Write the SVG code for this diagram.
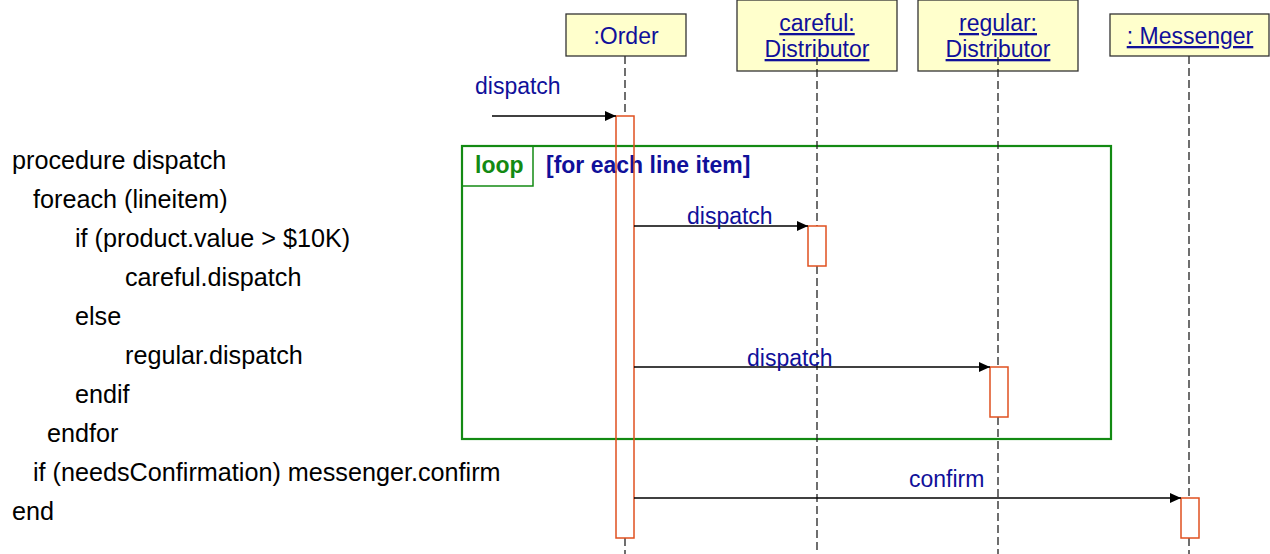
<svg xmlns="http://www.w3.org/2000/svg" width="1270" height="554" viewBox="0 0 1270 554">
<defs>
<marker id="arr" markerWidth="12" markerHeight="10" refX="11" refY="5" orient="auto" markerUnits="userSpaceOnUse">
<path d="M0,0 L11,5 L0,10 Z" fill="#000"/>
</marker>
<style>
.obj{fill:#ffffcc;stroke:#333;stroke-width:1.3}
.otxt{font-family:"Liberation Sans",Arial,sans-serif;font-size:23px;fill:#10109a;text-anchor:middle}
.u{text-decoration:underline}
.life{stroke:#222;stroke-width:1.3;stroke-dasharray:8 4;fill:none}
.act{fill:none;stroke:#e0501f;stroke-width:1.5}
.msg{stroke:#000;stroke-width:1.3;fill:none;marker-end:url(#arr)}
.lbl{font-family:"Liberation Sans",Arial,sans-serif;font-size:23px;fill:#10109a}
.code{font-family:"Liberation Sans",Arial,sans-serif;font-size:25.2px;fill:#000}
.frame{fill:none;stroke:#138a13;stroke-width:2.2}
.tab{fill:none;stroke:#138a13;stroke-width:1.5}
</style>
</defs>
<rect width="1270" height="554" fill="#fff"/>

<g id="code">
<text class="code" x="12" y="169">procedure dispatch</text>
<text class="code" x="33" y="208">foreach (lineitem)</text>
<text class="code" x="75" y="247">if (product.value &gt; $10K)</text>
<text class="code" x="125" y="286">careful.dispatch</text>
<text class="code" x="75" y="325">else</text>
<text class="code" x="125" y="364">regular.dispatch</text>
<text class="code" x="75" y="403">endif</text>
<text class="code" x="47" y="442">endfor</text>
<text class="code" x="33" y="481">if (needsConfirmation) messenger.confirm</text>
<text class="code" x="12" y="520">end</text>
</g>

<g id="loop-frame">
<rect class="frame" x="462" y="146" width="649" height="293"/>
<path class="tab" d="M462,186 H533 V146"/>
<text x="475" y="173" font-family="Liberation Sans,Arial,sans-serif" font-size="23" font-weight="bold" fill="#138a13">loop</text>
<text x="546" y="173" font-family="Liberation Sans,Arial,sans-serif" font-size="23" font-weight="bold" fill="#10109a">[for each line item]</text>
</g>

<g id="order">
<line class="life" x1="625" y1="56" x2="625" y2="116"/>
<line class="life" x1="625" y1="538" x2="625" y2="554"/>
<rect class="obj" x="566" y="14" width="120" height="42"/>
<text class="otxt" x="626" y="44">:Order</text>
<rect class="act" x="616" y="116" width="18" height="422"/>
</g>

<g id="careful">
<rect class="obj" x="737" y="0" width="160" height="71"/>
<text class="otxt u" x="817" y="31">careful:</text>
<text class="otxt u" x="817" y="57">Distributor</text>
<line class="life" x1="817" y1="57" x2="817" y2="226"/>
<line class="life" x1="817" y1="266" x2="817" y2="554"/>
<rect class="act" x="808" y="226" width="18" height="40"/>
</g>

<g id="regular">
<rect class="obj" x="918" y="0" width="160" height="71"/>
<text class="otxt u" x="998" y="31">regular:</text>
<text class="otxt u" x="998" y="57">Distributor</text>
<line class="life" x1="998" y1="57" x2="998" y2="367"/>
<line class="life" x1="998" y1="417" x2="998" y2="554"/>
<rect class="act" x="990" y="367" width="18" height="50"/>
</g>

<g id="messenger">
<line class="life" x1="1189" y1="56" x2="1189" y2="498"/>
<line class="life" x1="1189" y1="538" x2="1189" y2="554"/>
<rect class="obj" x="1110" y="14" width="159" height="42"/>
<text class="otxt u" x="1190" y="44">: Messenger</text>
<rect class="act" x="1181" y="498" width="18" height="40"/>
</g>

<g id="connectors">
<line class="msg" x1="492" y1="116" x2="616" y2="116"/>
<text class="lbl" x="475" y="94">dispatch</text>
<line class="msg" x1="634" y1="226" x2="808" y2="226"/>
<text class="lbl" x="687" y="224">dispatch</text>
<line class="msg" x1="634" y1="367" x2="990" y2="367"/>
<text class="lbl" x="747" y="366">dispatch</text>
<line class="msg" x1="634" y1="498" x2="1181" y2="498"/>
<text class="lbl" x="909" y="487">confirm</text>
</g>
</svg>
